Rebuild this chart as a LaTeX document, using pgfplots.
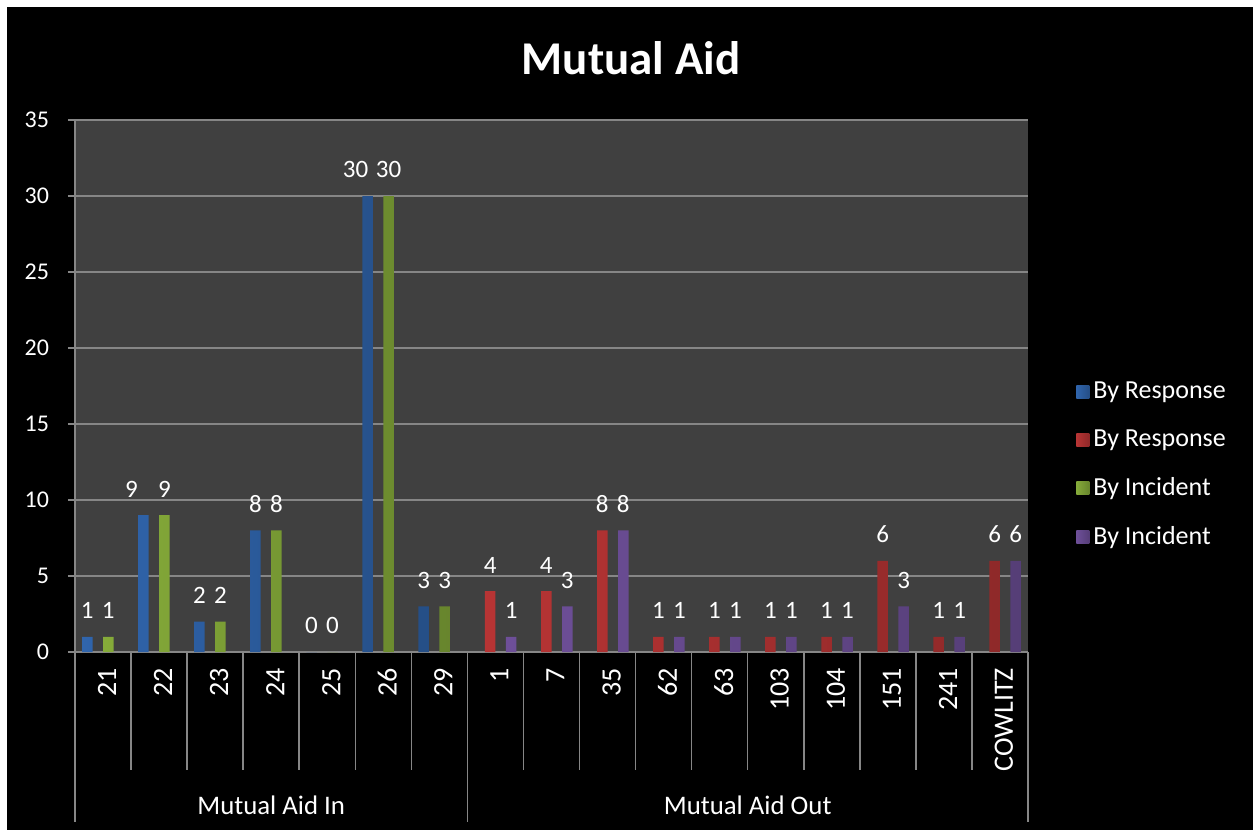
\documentclass[border=0pt]{standalone}
\usepackage{fontspec}
\setmainfont{Carlito}
\usepackage{pgfplots}
\pgfplotsset{compat=1.18}

\definecolor{plotbg}{HTML}{404040}
\definecolor{gridc}{HTML}{868686}
\definecolor{cblue}{HTML}{3570C0}
\definecolor{cred}{HTML}{CC3A3A}
\definecolor{cgreen}{HTML}{94BE40}
\definecolor{cpurple}{HTML}{7A58AA}

\pgfplotsset{
  bar3d/.style={draw=none,
    left color=#1!90!black, middle color=#1!85!white, right color=#1!70!black,
    legend image code/.code={\fill[##1] (0pt,-3.25pt) rectangle (6.5pt,3.25pt);}},
}

\begin{document}
\begin{tikzpicture}[x=0.5pt,y=-0.5pt]
\fill[white] (0,0) rectangle (1253,830);
\fill[black] (7,7) rectangle (1253,830);
\path[use as bounding box] (0,0) rectangle (1253,830);
\node[white, font=\fontsize{23.5}{28}\selectfont\bfseries] at (631,58) {Mutual Aid};
\coordinate (O) at (75,652);
\begin{axis}[
  at={(O)}, anchor=south west,
  scale only axis, width=476.5pt, height=266pt,
  clip=false,
  ybar=0pt, bar width=5.25pt,
  xmin=-0.5, xmax=16.5, ymin=0, ymax=35,
  axis background/.style={fill=plotbg},
  axis x line=bottom, axis y line=left,
  axis line style={gridc, line width=0.75pt, -},
  ymajorgrids, major grid style={gridc, line width=0.75pt},
  ytick={0,5,...,35},
  tick align=outside, major tick length=3.5pt,
  ytick style={gridc, line width=0.75pt},
  yticklabel style={text=white, font=\fontsize{12}{14}\selectfont, xshift=-6pt},
  /pgf/number format/assume math mode=true,
  xtick={0,...,16},
  xticklabels={21,22,23,24,25,26,29,1,7,35,62,63,103,104,151,241,COWLITZ},
  xtick style={draw=none},
  x tick label style={rotate=90, anchor=east, text=white,
    font=\fontsize{14}{16}\selectfont, yshift=-2pt, xshift=-1pt},
  nodes near coords,
  visualization depends on={value \thisrow{s} \as \lblshift},
  every node near coord/.append style={text=white,
    font=\fontsize{12.5}{14}\selectfont, yshift=5.5pt, xshift=\lblshift pt},
  legend style={at={(1.044,0.352)}, anchor=west, draw=none, fill=none,
    text=white, font=\fontsize{13}{15}\selectfont, row sep=10pt},
  legend cell align=left,
]
\addplot[bar3d=cblue] table {
x y s
0 1 0
1 9 -6
2 2 0
3 8 0
4 0 0
5 30 -6
6 3 0
};
\addplot[bar3d=cred] table {
x y s
7 4 0
8 4 0
9 8 0
10 1 0
11 1 0
12 1 0
13 1 0
14 6 0
15 1 0
16 6 0
};
\addplot[bar3d=cgreen] table {
x y s
0 1 0
1 9 0
2 2 0
3 8 0
4 0 0
5 30 0
6 3 0
};
\addplot[bar3d=cpurple] table {
x y s
7 1 0
8 3 0
9 8 0
10 1 0
11 1 0
12 1 0
13 1 0
14 3 0
15 1 0
16 6 0
};
\legend{By Response, By Response, By Incident, By Incident}
\pgfplotsinvokeforeach{0.5,1.5,2.5,3.5,4.5,5.5,7.5,8.5,9.5,10.5,11.5,12.5,13.5,14.5,15.5}{
  \draw[gridc, line width=0.75pt] (axis cs:#1,0) -- ++(0pt,-59pt);
}
\draw[gridc, line width=0.75pt] (axis cs:-0.5,0) -- ++(0pt,-85pt);
\draw[gridc, line width=0.75pt] (axis cs:6.5,0) -- ++(0pt,-85pt);
\draw[gridc, line width=0.75pt] (axis cs:16.5,0) -- ++(0pt,-85pt);
\node[white, font=\fontsize{13.4}{15}\selectfont] at (axis cs:3,0) [yshift=-76.5pt] {Mutual Aid In};
\node[white, font=\fontsize{13.4}{15}\selectfont] at (axis cs:11.5,0) [yshift=-76.5pt] {Mutual Aid Out};
\end{axis}
\end{tikzpicture}
\end{document}
